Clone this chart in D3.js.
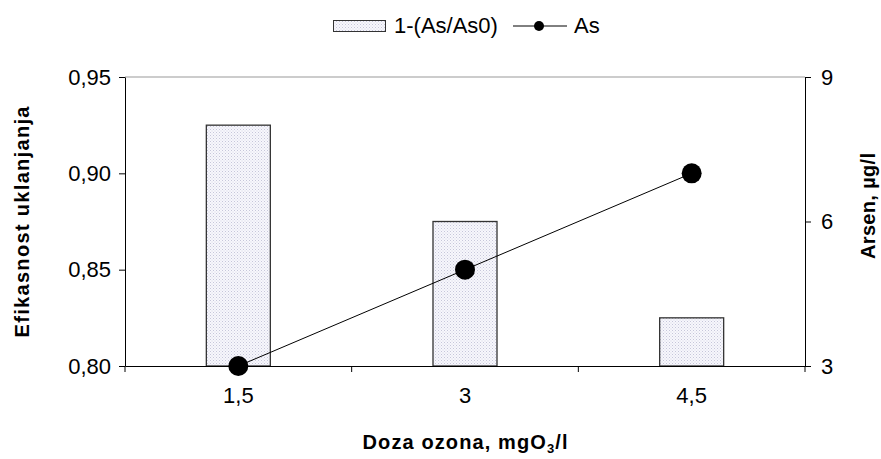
<!DOCTYPE html>
<html><head><meta charset="utf-8">
<script src="https://cdn.jsdelivr.net/npm/d3@7"></script>
<style>body{margin:0;background:#fff}svg{display:block;font-family:"Liberation Sans",Arial,sans-serif}</style>
</head><body><svg id="c" width="881" height="459"></svg>
<script>
const categories = ["1,5", "3", "4,5"];
const efficiency = [0.925, 0.875, 0.825];
const arsenic = [3, 5, 7];
const leftTicks = [0.80, 0.85, 0.90, 0.95];
const rightTicks = [3, 6, 9];

const FONT = "Liberation Sans, Arial, sans-serif";
const svg = d3.select("#c");
const m = {l: 125, r: 805, t: 77, b: 366};
const defs = svg.append("defs");
const pat = defs.append("pattern").attr("id","dots").attr("width",3).attr("height",3).attr("patternUnits","userSpaceOnUse");
pat.append("rect").attr("width",3).attr("height",3).attr("fill","#f7f7fc");
pat.append("rect").attr("width",1).attr("height",1).attr("fill","#c6c6da");
pat.append("rect").attr("x",1.5).attr("y",1.5).attr("width",1).attr("height",1).attr("fill","#d6d6e6");

const x = d3.scaleBand().domain(categories).range([m.l, m.r]).paddingInner(0).paddingOuter(0);
const yL = d3.scaleLinear().domain([0.80, 0.95]).range([m.b, m.t]);
const yR = d3.scaleLinear().domain([3, 9]).range([m.b, m.t]);
const barW = 64;

// top border
svg.append("line").attr("x1",m.l).attr("x2",m.r).attr("y1",m.t).attr("y2",m.t).attr("stroke","#999").attr("stroke-width",1);

// bars
svg.selectAll("rect.bar").data(categories).join("rect").attr("class","bar")
  .attr("x", (d)=> x(d)+x.bandwidth()/2-barW/2)
  .attr("y", (d,i)=> yL(efficiency[i]))
  .attr("width", barW)
  .attr("height", (d,i)=> m.b - yL(efficiency[i]))
  .attr("fill","url(#dots)").attr("stroke","#333").attr("stroke-width",1.3);

// left axis
const axL = svg.append("g").attr("transform",`translate(${m.l},0)`)
  .call(d3.axisLeft(yL).tickValues(leftTicks).tickSize(6).tickSizeOuter(0).tickFormat(d=>d3.format(".2f")(d).replace(".",",")));
axL.select(".domain").attr("stroke","#000");
axL.selectAll(".tick line").attr("stroke","#000");
axL.selectAll("text").attr("font-size",22).attr("fill","#000").attr("font-family",FONT).attr("dx",-5);

// right axis
const axR = svg.append("g").attr("transform",`translate(${m.r},0)`)
  .call(d3.axisRight(yR).tickValues(rightTicks).tickSize(6).tickSizeOuter(0).tickFormat(d3.format("d")));
axR.select(".domain").attr("stroke","#000");
axR.selectAll(".tick line").attr("stroke","#000");
axR.selectAll("text").attr("font-size",22).attr("fill","#000").attr("font-family",FONT).attr("dx",7);

// bottom axis
const axB = svg.append("g").attr("transform",`translate(0,${m.b})`)
  .call(d3.axisBottom(x).tickSize(0).tickSizeOuter(0));
axB.select(".domain").attr("stroke","#000");
axB.selectAll("text").attr("font-size",22).attr("fill","#000").attr("font-family",FONT).attr("y",37).attr("dy","0");
// category boundary ticks
const bounds = categories.map(c=>x(c)).concat([m.r]);
svg.selectAll("line.bt").data(bounds).join("line").attr("class","bt")
  .attr("x1",d=>d).attr("x2",d=>d).attr("y1",m.b).attr("y2",m.b+6).attr("stroke","#000");

// line
const line = d3.line().x((d,i)=> x(categories[i])+x.bandwidth()/2).y(d=> yR(d));
svg.append("path").datum(arsenic).attr("d",line).attr("fill","none").attr("stroke","#000").attr("stroke-width",1);
svg.selectAll("circle.pt").data(arsenic).join("circle").attr("class","pt")
  .attr("cx",(d,i)=> x(categories[i])+x.bandwidth()/2).attr("cy",d=>yR(d)).attr("r",10).attr("fill","#000");

// titles
svg.append("text").attr("transform","translate(29,222) rotate(-90)").attr("text-anchor","middle")
  .attr("font-size",20).attr("font-weight","bold").attr("textLength",231).attr("lengthAdjust","spacing").text("Efikasnost uklanjanja");
svg.append("text").attr("transform","translate(875,206) rotate(-90)").attr("text-anchor","middle")
  .attr("font-size",20).attr("font-weight","bold").attr("textLength",106).attr("lengthAdjust","spacing").text("Arsen, µg/l");
const xt = svg.append("text").attr("x",465).attr("y",449).attr("text-anchor","middle").attr("font-size",20).attr("font-weight","bold")
  .attr("textLength",205).attr("lengthAdjust","spacing");
xt.append("tspan").text("Doza ozona, mgO");
xt.append("tspan").attr("font-size",13).attr("dy",4).text("3");
xt.append("tspan").attr("dy",-4).text("/l");

// legend
svg.append("rect").attr("x",333.5).attr("y",20.5).attr("width",52).attr("height",11).attr("fill","url(#dots)").attr("stroke","#333").attr("stroke-width",1);
svg.append("text").attr("x",394).attr("y",33).attr("font-size",22).text("1-(As/As0)");
svg.append("line").attr("x1",513).attr("x2",567).attr("y1",26).attr("y2",26).attr("stroke","#000");
svg.append("circle").attr("cx",539).attr("cy",26).attr("r",5).attr("fill","#000");
svg.append("text").attr("x",574).attr("y",33).attr("font-size",22).text("As");
</script></body></html>
